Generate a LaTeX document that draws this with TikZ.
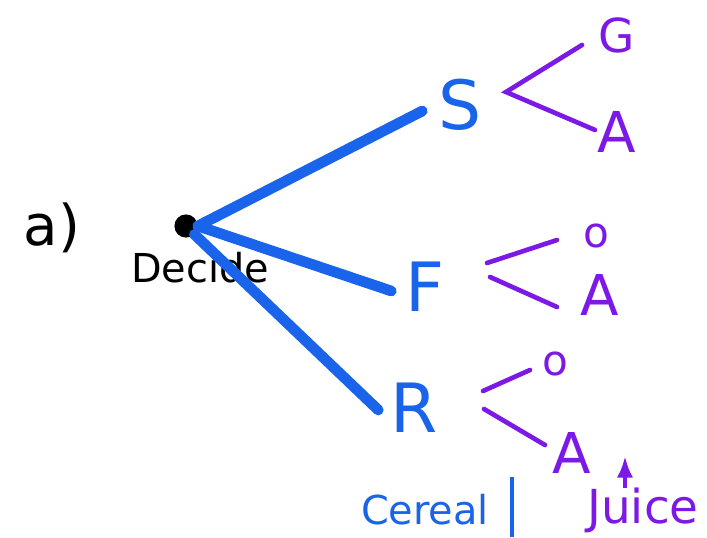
\documentclass[tikz,border=0pt]{standalone}
\usepackage{fontspec}
\setmainfont{DejaVu Sans}
\usetikzlibrary{arrows.meta,calc,positioning}
\definecolor{penblue}{RGB}{25,100,235}
\definecolor{penpurple}{RGB}{125,25,230}

\begin{document}
\begin{tikzpicture}[x=0.03cm,y=-0.03cm,>=Latex,
  choice/.style={draw=penblue,line width=3.2mm,line cap=round},
  outcome/.style={draw=penpurple,line width=1.4mm,line cap=round},
  act/.style={text=penblue,font=\fontsize{58}{58}\selectfont},
  res/.style={text=penpurple,font=\fontsize{48}{48}\selectfont}]
\useasboundingbox (0,0) rectangle (707,537);
% root
\node[font=\fontsize{48}{48}\selectfont] (lab) at (52,228) {a)};
\node[circle,fill=black,inner sep=7pt] (root) at (186,226) {};
\node[font=\fontsize{34}{34}\selectfont] (dec) at (200,268) {Decide};
% first choices
\node[act] (S) at (460,105) {S};
\node[act] (F) at (425,287) {F};
\node[act] (R) at (414,408) {R};
\draw[choice] (root.east) -- ($(S.west)+(-12,6)$) coordinate (se);
\draw[choice] (root.east) -- ($(F.west)+(-10,4)$) coordinate (fe);
\draw[choice] (root.south east) -- ($(R.west)+(-8,2)$) coordinate (re);
% outcomes
\node[res,font=\fontsize{40}{40}\selectfont] (G) at (617,35) {G};
\node[res] (SA) at (617,132) {A};
\node[res,font=\fontsize{36}{36}\selectfont] (FO) at (596,236) {o};
\node[res] (FA) at (600,295) {A};
\node[res,font=\fontsize{36}{36}\selectfont] (RO) at (555,364) {o};
\node[res] (RA) at (572,453) {A};
\coordinate (sv) at (506,92);
\draw[outcome] (582,45) -- (sv) -- (595,130);
\draw[outcome] (487,263) -- (557,240);
\draw[outcome] (490,277) -- (557,307);
\draw[outcome] (483,391) -- (530,370);
\draw[outcome] (484,409) -- (545,445);
% labels underneath
\node[act,font=\fontsize{34}{34}\selectfont] (cer) at (425,510) {Cereal};
\draw[draw=penblue,line width=1.4mm] (512,477) -- (512,537);
\node[res,font=\fontsize{40}{40}\selectfont] (jui) at (643,510) {Juice};
\coordinate (up) at (625,456);
\draw[->,draw=penpurple,line width=1.2mm] (625,488) -- (up);
\end{tikzpicture}
\end{document}
